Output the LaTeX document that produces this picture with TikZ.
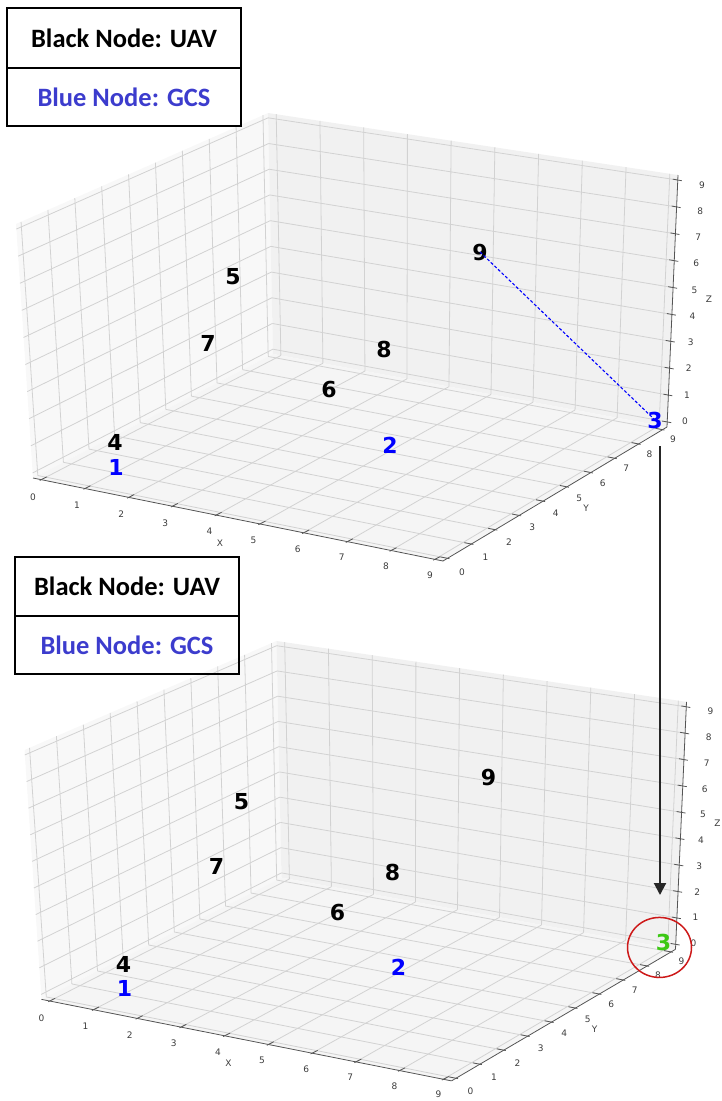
\documentclass[tikz,border=0pt]{standalone}
\usepackage{fontspec}
\setmainfont{Carlito}
\newfontfamily\plotfont{DejaVu Sans}
\usepackage{tikz}
\usetikzlibrary{arrows.meta,calc,positioning}
\definecolor{gridgray}{RGB}{210,210,210}
\definecolor{axisgray}{RGB}{85,85,85}
\definecolor{ticktext}{RGB}{60,60,60}
\definecolor{leftpane}{RGB}{248,248,248}
\definecolor{backpane}{RGB}{241,241,241}
\definecolor{floorpane}{RGB}{245,245,245}
\definecolor{legendblue}{RGB}{60,60,205}
\definecolor{gcsblue}{RGB}{0,0,255}
\definecolor{linkgreen}{RGB}{60,200,20}
\definecolor{circlered}{RGB}{205,25,25}

% one 3D axes box: panes, grid, axes, ticks
\newcommand{\axesbox}{%
  \coordinate (A) at (33,478);
  \coordinate (B) at (443,561);
  \coordinate (C) at (667,427);
  \coordinate (D) at (273,354);
  \coordinate (At) at (16,224);
  \coordinate (Dt) at (268,113);
  \coordinate (Ct) at (678,175);
  \fill[leftpane] (A) -- (D) -- (Dt) -- (At) -- cycle;
  \fill[backpane] (D) -- (C) -- (Ct) -- (Dt) -- cycle;
  \fill[floorpane] (A) -- (B) -- (C) -- (D) -- cycle;
  \foreach \gi in {0,...,9}{
    \pgfmathsetmacro\gpos{0.02+0.96*\gi/9}
    \draw[gridline] ($(A)!\gpos!(B)$) -- ($(D)!\gpos!(C)$);
    \draw[gridline] ($(A)!\gpos!(D)$) -- ($(B)!\gpos!(C)$);
    \draw[gridline] ($(A)!\gpos!(D)$) -- ($(At)!\gpos!(Dt)$);
    \draw[gridline] ($(A)!\gpos!(At)$) -- ($(D)!\gpos!(Dt)$);
    \draw[gridline] ($(D)!\gpos!(C)$) -- ($(Dt)!\gpos!(Ct)$);
    \draw[gridline] ($(D)!\gpos!(Dt)$) -- ($(C)!\gpos!(Ct)$);
  }
  \draw[axisline] (A) -- (B);
  \draw[axisline] (B) -- (C);
  \draw[axisline] (C) -- (Ct);
  \foreach \gi in {0,...,9}{
    \pgfmathsetmacro\gpos{0.02+0.96*\gi/9}
    \draw[axisline] ($(A)!\gpos!(B)+(-1.5,0.8)$) -- ($(A)!\gpos!(B)+(5.5,-2.8)$);
    \draw[axisline] ($(B)!\gpos!(C)+(2,0.4)$) -- ($(B)!\gpos!(C)+(-7,-1.4)$);
    \draw[axisline] ($(C)!\gpos!(Ct)+(4,0.7)$) -- ($(C)!\gpos!(Ct)+(-5,-0.9)$);
    \node[ticklbl] at ($(33,497)!\gi/9!(430,575)$) {\gi};
    \node[ticklbl] at ($(462,572)!\gi/9!(673,439)$) {\gi};
    \node[ticklbl] at ($(685,421)!\gi/9!(702,185)$) {\gi};
  }
  \node[ticklbl] at (220,543) {X};
  \node[ticklbl] at (586,508) {Y};
  \node[ticklbl] at (709,299) {Z};
}

\begin{document}
\begin{tikzpicture}[x=1pt,y=-1pt,
  gridline/.style={draw=gridgray,line width=0.8pt},
  axisline/.style={draw=axisgray,line width=0.8pt},
  ticklbl/.style={font=\plotfont\fontsize{9}{9}\selectfont,text=ticktext,inner sep=0pt},
  uavlbl/.style={font=\plotfont\bfseries\fontsize{22}{22}\selectfont,inner sep=0pt},
  gcslbl/.style={uavlbl,text=gcsblue},
  legendcell/.style={draw,line width=1.2pt,outer sep=0pt,inner sep=0pt,
    font=\bfseries\fontsize{26.5}{26.5}\selectfont},
  linkdash/.style={gcsblue,line width=1.1pt,dash pattern=on 3pt off 2pt},
  movearrow/.style={draw=black!85,line width=2pt,-{Triangle[width=12pt,length=12pt]}}]
  \useasboundingbox (0,0) rectangle (722,1101);

  % upper plot
  \begin{scope}[name prefix=top-]
    \axesbox
    \node[uavlbl] (n9) at (480,252) {9};
    \node[uavlbl] (n5) at (233,277) {5};
    \node[uavlbl] (n7) at (208,343) {7};
    \node[uavlbl] (n8) at (384,349) {8};
    \node[uavlbl] (n6) at (329,389) {6};
    \node[uavlbl] (n4) at (115,442) {4};
    \node[gcslbl] (n1) at (116,467) {1};
    \node[gcslbl] (n2) at (390,445) {2};
    \node[gcslbl] (n3) at (655,420) {3};
    \draw[linkdash] (n9.center) -- (n3.center);
  \end{scope}

  % lower plot
  \begin{scope}[name prefix=bot-,shift={(8.5,530)},yscale=0.982]
    \axesbox
    \node[uavlbl] (n9) at (480,252) {9};
    \node[uavlbl] (n5) at (233,277) {5};
    \node[uavlbl] (n7) at (208,343) {7};
    \node[uavlbl] (n8) at (384,349) {8};
    \node[uavlbl] (n6) at (329,389) {6};
    \node[uavlbl] (n4) at (115,442) {4};
    \node[gcslbl] (n1) at (116,467) {1};
    \node[gcslbl] (n2) at (390,445) {2};
    \node[uavlbl,text=linkgreen] (n3) at (655,420) {3};
  \end{scope}

  % legends
  \node[legendcell,minimum width=234pt,minimum height=60pt] (topuav) at (124,38) {Black Node: UAV};
  \node[legendcell,minimum width=234pt,minimum height=58pt,text=legendblue,below=0pt of topuav] (topgcs) {Blue Node: GCS};
  \node[legendcell,minimum width=224pt,minimum height=59pt] (botuav) at (127,586.5) {Black Node: UAV};
  \node[legendcell,minimum width=224pt,minimum height=58pt,text=legendblue,below=0pt of botuav] (botgcs) {Blue Node: GCS};

  % move of node 3
  \coordinate (arrowtop) at (660,446);
  \coordinate (arrowtip) at (660,895);
  \draw[movearrow] (arrowtop) -- (arrowtip);
  \draw[circlered,line width=1.5pt] ($(bot-n3)+(-4,5)$) ellipse [x radius=32,y radius=30];
\end{tikzpicture}
\end{document}
